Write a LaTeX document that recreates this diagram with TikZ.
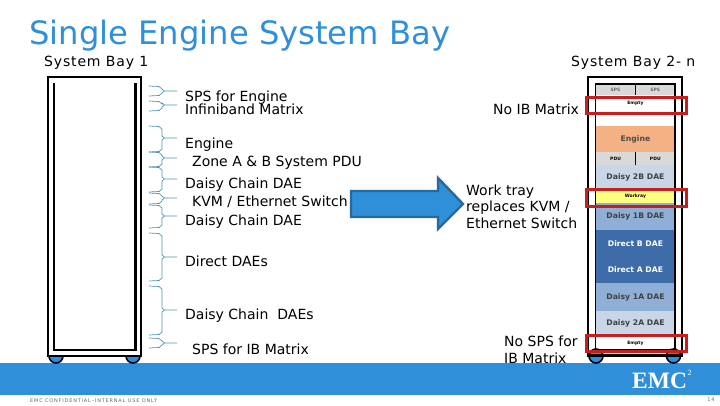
\documentclass[tikz,border=0pt]{standalone}
\usepackage{fontspec}
\setmainfont{DejaVu Sans}
\newfontfamily\logofont{Liberation Serif}
\newfontfamily\widefont[LetterSpace=6]{DejaVu Sans}
\newfontfamily\footfont[LetterSpace=16]{DejaVu Sans}
\definecolor{bandblue}{HTML}{2F8FD8}
\definecolor{arrowedge}{HTML}{27699C}
\definecolor{bracketline}{HTML}{4F93AE}
\definecolor{redbox}{HTML}{C81E1E}
\definecolor{rowgray}{HTML}{D9D9D9}
\definecolor{roworange}{HTML}{F4B183}
\definecolor{rowlight}{HTML}{C9D6E8}
\definecolor{rowmid}{HTML}{8FAFD6}
\definecolor{rowdark}{HTML}{3D6CA8}
\definecolor{rowyellow}{HTML}{FFFF80}
\tikzset{
  lab/.style={anchor=base west,inner sep=0pt,align=left,font=\fontsize{14}{16.5}\selectfont},
  baylab/.style={lab,font=\widefont\fontsize{14}{16.5}\selectfont},
  baybox/.style={draw=black,line width=2.6pt},
  rowbox/.style={anchor=north west,inner sep=0pt,minimum width=79.5pt,font=\bfseries\fontsize{7.7}{8}\selectfont},
  smallrow/.style={rowbox,font=\bfseries\fontsize{4.5}{5}\selectfont},
  redmark/.style={draw=redbox,line width=3pt},
  wheel/.style={draw=black!85!blue,fill=bandblue,line width=1.6pt}
}
\begin{document}
\begin{tikzpicture}[x=1pt,y=-1pt]
\useasboundingbox (0,0) rectangle (720,405);
% footer band
\fill[bandblue] (0,363) rectangle (720,395);
% title
\node[anchor=base west,inner sep=0pt,text=bandblue,font=\fontsize{32.2}{32.2}\selectfont] (title) at (29,44) {Single Engine System Bay};
\node[baylab] (bayone) at (44,66) {System Bay 1};
\node[baylab] (baytwo) at (571,66) {System Bay 2- n};
% left bay
\draw[wheel] (56,356) circle (7);
\draw[wheel] (133,356) circle (7);
\fill[white] (48,349) rectangle (141,356);
\draw[baybox,fill=white] (48,77) rectangle (141,356);
\draw[line width=2.4pt] (54,83) -- (54,350) -- (135.5,350) -- (135.5,83);
% brackets
\foreach \ya/\yb/\yc in {86/96/91,101/111/105,126/152/138,152/167/158,167/192/179,193/204/198,205/228/216,233/281/257,286/335/310,338/348/343}{
  \draw[bracketline,line width=0.7pt]
    (149,\ya) -- (159,\ya+0.5) -- (162,\ya+3) -- (162,\yc-2) -- (164.5,\yc) -- (177,\yc)
    (164.5,\yc) -- (162,\yc+2) -- (162,\yb-3) -- (159,\yb-0.5) -- (149,\yb);
}
% left labels
\node[lab] (spsengine) at (185,114) {SPS for Engine\\[-3.5pt]Infiniband Matrix};
\node[lab] (engine) at (185,148) {Engine};
\node[lab] (zonepdu) at (192,166) {Zone A \& B System PDU};
\node[lab] (daisyone) at (185,188) {Daisy Chain DAE};
\node[lab] (kvm) at (192,206) {KVM / Ethernet Switch};
\node[lab] (daisytwo) at (185,225) {Daisy Chain DAE};
\node[lab] (directdae) at (185,266) {Direct DAEs};
\node[lab] (daisymany) at (185,319) {Daisy Chain\ \ DAEs};
\node[lab] (spsib) at (192,354) {SPS for IB Matrix};
% arrow
\draw[fill=bandblue,draw=arrowedge,line width=2.4pt,line join=miter]
  (351,191) -- (438,191) -- (438,178) -- (463,204) -- (438,229) -- (438,217) -- (351,217) -- cycle;
% right labels
\node[lab] (noib) at (493,114) {No IB Matrix};
\node[lab] (worktray) at (466,228) {Work tray\\replaces KVM /\\Ethernet Switch};
\node[lab] (nosps) at (504,363) {No SPS for\\IB Matrix};
% right bay
\draw[baybox,fill=white] (588,77) rectangle (682,355.5);
\node[smallrow,fill=rowgray,minimum width=39.75pt,minimum height=11pt,text=black!60] (spsa) at (595.5,84) {SPS};
\node[smallrow,fill=rowgray,minimum width=39.75pt,minimum height=11pt,text=black!60] (spsb) at (635.25,84) {SPS};
\node[smallrow,minimum height=17pt] (emptytop) at (595.5,95) {Empty};
\node[rowbox,fill=roworange,minimum height=26pt,text=black!70] (enginerow) at (595.5,126) {Engine};
\node[smallrow,fill=rowgray,minimum width=39.75pt,minimum height=13pt] (pdua) at (595.5,152) {PDU};
\node[smallrow,fill=rowgray,minimum width=39.75pt,minimum height=13pt] (pdub) at (635.25,152) {PDU};
\node[rowbox,fill=rowlight,minimum height=24pt,text=black!75] (daisytb) at (595.5,165) {Daisy 2B DAE};
\node[smallrow,fill=rowyellow,minimum height=14pt] (workrow) at (595.5,189) {Workray};
\node[rowbox,fill=rowmid,minimum height=27pt,text=black!75] (daisyob) at (595.5,203) {Daisy 1B DAE};
\node[rowbox,fill=rowdark,minimum height=26.5pt,text=white] (directb) at (595.5,230) {Direct B DAE};
\node[rowbox,fill=rowdark,minimum height=26.5pt,text=white] (directa) at (595.5,256.5) {Direct A DAE};
\node[rowbox,fill=rowmid,minimum height=27.5pt,text=black!75] (daisyoa) at (595.5,283) {Daisy 1A DAE};
\node[rowbox,fill=rowlight,minimum height=24.5pt,text=black!75] (daisyta) at (595.5,310.5) {Daisy 2A DAE};
\node[smallrow,minimum height=15pt] (emptybot) at (595.5,335.5) {Empty};
\draw[line width=1.8pt] (595.5,84) -- (595.5,350) -- (675,350) -- (675,84) -- cycle;
\draw[line width=0.7pt] (635.25,84) -- (635.25,95);
\draw[line width=0.7pt] (635.25,152) -- (635.25,165);
% wheels right
\draw[wheel] (596,356) circle (7);
\draw[wheel] (673.5,356) circle (7);
\draw[baybox] (588,355.5) -- (682,355.5);
\fill[bandblue] (585,364.5) rectangle (685,368);
% red marks
\draw[redmark] (586,97) rectangle (686,113);
\draw[redmark] (586,189.5) rectangle (686,206.5);
\draw[redmark] (586,335) rectangle (686,351.5);
% logo and footer
\node[anchor=base west,inner sep=0pt,text=white,font=\logofont\bfseries\fontsize{23.5}{24}\selectfont] (logo) at (632,388) {EMC};
\node[anchor=center,inner sep=0pt,text=white,font=\logofont\fontsize{8}{8}\selectfont] (logotwo) at (689.5,373) {2};
\node[anchor=base west,inner sep=0pt,text=black!60,font=\footfont\fontsize{5}{5}\selectfont] (footer) at (30,402) {EMC CONFIDENTIAL–INTERNAL USE ONLY};
\node[anchor=center,inner sep=0pt,text=black!60,font=\footfont\fontsize{5}{5}\selectfont] (pagenum) at (711,400) {14};
\end{tikzpicture}
\end{document}
